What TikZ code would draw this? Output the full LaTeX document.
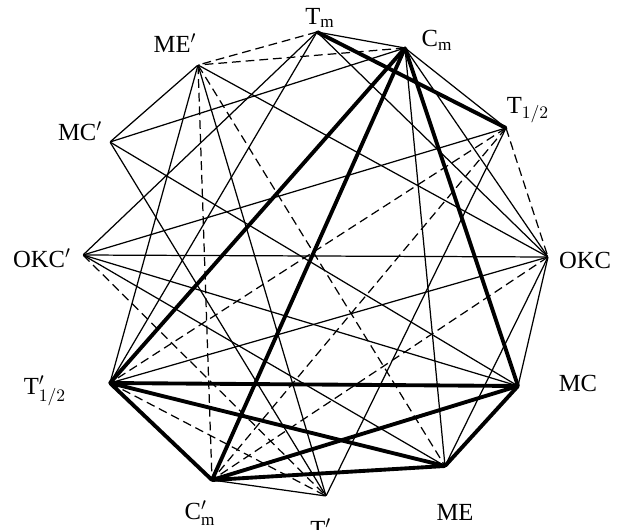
\documentclass[tikz,border=0pt]{standalone}
\usepackage{fontspec}
\setmainfont{Liberation Serif}
\usetikzlibrary{positioning}
\tikzset{
  pt/.style={inner sep=0pt, minimum size=0pt},
  lbl/.style={font=\fontsize{14}{16}\selectfont, inner sep=1pt},
  weak/.style={line width=0.7pt, draw=black},
  neg/.style={line width=0.7pt, draw=black, dash pattern=on 5pt off 2.8pt},
  strong/.style={line width=2.2pt, draw=black, line cap=round},
}

\begin{document}
\begin{tikzpicture}
    \useasboundingbox (0,0) rectangle (12.5,10.58);
    % points of the pleiad
    \node[pt] (tm)   at (6.34,9.94) {};
    \node[pt] (cm)   at (8.10,9.62) {};
    \node[pt] (t12)  at (10.12,8.02) {};
    \node[pt] (okc)  at (10.96,5.44) {};
    \node[pt] (mc)   at (10.36,2.86) {};
    \node[pt] (me)   at (8.90,1.26) {};
    \node[pt] (tpm)  at (6.52,0.66) {};
    \node[pt] (cpm)  at (4.24,0.98) {};
    \node[pt] (tp12) at (2.20,2.92) {};
    \node[pt] (okcp) at (1.66,5.48) {};
    \node[pt] (mcp)  at (2.20,7.74) {};
    \node[pt] (mep)  at (3.96,9.28) {};
    % labels
    \node[lbl] (ltm)   at (6.40,10.22) {T$_\mathrm{m}$};
    \node[lbl] (lcm)   at (8.74,9.78)  {C$_\mathrm{m}$};
    \node[lbl] (lt12)  at (10.56,8.38) {T$_{1/2}$};
    \node[lbl] (lokc)  at (11.70,5.38) {OKC};
    \node[lbl] (lmc)   at (11.56,2.92) {MC};
    \node[lbl] (lme)   at (9.10,0.34)  {ME};
    \node[lbl] (ltpm)  at (6.50,-0.04) {T$'_\mathrm{m}$};
    \node[lbl] (lcpm)  at (4.00,0.32)  {C$'_\mathrm{m}$};
    \node[lbl] (ltp12) at (0.90,2.76)  {T$'_{1/2}$};
    \node[lbl] (lokcp) at (0.84,5.42)  {OKC$'$};
    \node[lbl] (lmcp)  at (1.60,7.96)  {MC$'$};
    \node[lbl] (lmep)  at (3.50,9.72)  {ME$'$};
    % weak links
    \foreach \a/\b in {tm/cm, tm/tp12, tm/okcp, tm/okc, cm/t12, cm/me, cm/mcp, cm/okc,
                       mep/mcp, mep/okc, mep/tp12, mep/tpm, mcp/mc, mcp/tpm,
                       okcp/t12, okcp/okc, okcp/mc, okcp/me, t12/tpm,
                       okc/tp12, okc/me, okc/mc, cpm/tpm}
      \draw[weak] (\a) -- (\b);
    % negative links
    \foreach \a/\b in {tm/mep, cm/mep, mep/me, mep/cpm, t12/okc, t12/tp12, t12/cpm,
                       okc/cpm, okcp/tpm, tp12/tpm}
      \draw[neg] (\a) -- (\b);
    % strong links
    \foreach \a/\b in {tm/t12, cm/tp12, cm/cpm, cm/mc, tp12/mc, tp12/cpm, tp12/me,
                       cpm/mc, cpm/me, me/mc}
      \draw[strong] (\a) -- (\b);
\end{tikzpicture}
\end{document}
